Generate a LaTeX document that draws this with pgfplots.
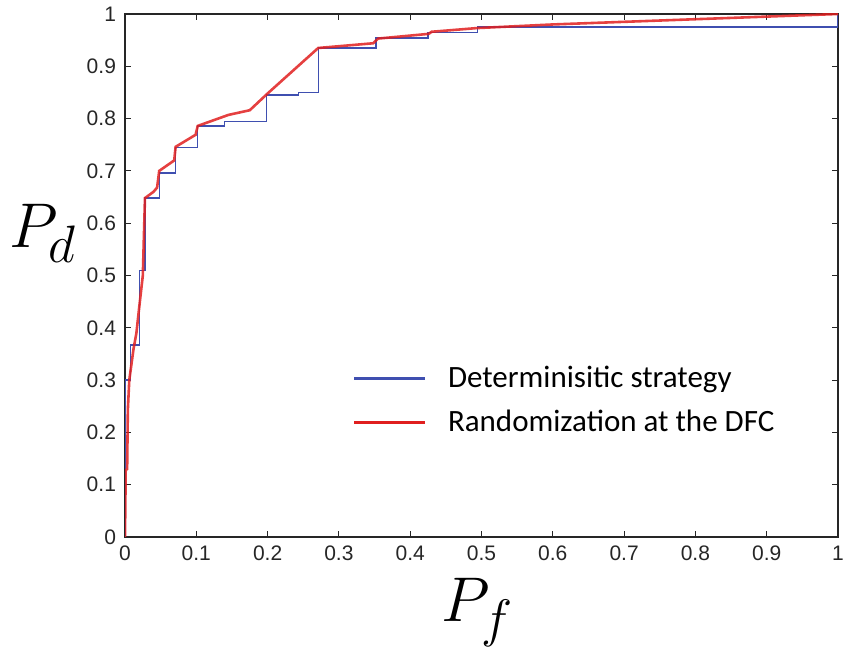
\documentclass[border=0pt]{standalone}
\usepackage{fontspec}
\setmainfont{Liberation Sans}
\newfontfamily\carlito{Carlito}
\usepackage{pgfplots}
\pgfplotsset{compat=1.18}
\definecolor{detblue}{HTML}{3F4FB0}
\definecolor{randred}{HTML}{E01F1F}
\definecolor{axgray}{HTML}{262626}
\begin{document}
\begin{tikzpicture}
\begin{axis}[
  scale only axis,
  width=356.5pt, height=261.5pt,
  xmin=0, xmax=1, ymin=0, ymax=1,
  xtick={0,0.1,...,1}, ytick={0,0.1,...,1},
  axis line style={axgray, line width=0.6pt},
  tick style={axgray, line width=0.5pt},
  tick align=inside,
  major tick length=3pt,
  tick label style={font=\fontsize{10.5}{12}\selectfont, text=axgray},
  /pgf/number format/assume math mode=true,
  xticklabel style={yshift=-1pt},
  yticklabel style={xshift=-1pt},
  xlabel={$P_f$},
  ylabel={$P_d$},
  xlabel style={font=\fontsize{24.88}{30}\selectfont, scale=1.27, inner sep=0pt, at={(axis description cs:0.495,-0.145)}, anchor=center},
  ylabel style={font=\fontsize{24.88}{30}\selectfont, scale=1.27, inner sep=0pt, at={(axis description cs:-0.115,0.581)}, anchor=center, rotate=-90},
  legend style={draw=none, fill=none, at={(axis description cs:0.31,0.343)}, anchor=north west,
    font=\carlito\fontsize{15.5}{18}\selectfont, row sep=6pt, text=black},
  legend cell align=left,
  legend image code/.code={\draw[#1, line width=1.6pt, opacity=1] (0pt,0pt) -- (35.5pt,0pt);
    \path[draw=none] (35.5pt,0pt) -- (45pt,0pt);},
]
\addplot[detblue, line width=0.6pt] coordinates {
(0,0) (0,0.30) (0.008,0.30) (0.008,0.367) (0.020,0.367) (0.020,0.51) (0.028,0.51)
(0.028,0.648) (0.048,0.648) (0.048,0.696) (0.071,0.696) (0.071,0.744) (0.102,0.744)
(0.102,0.786) (0.139,0.786) (0.139,0.794) (0.198,0.794) (0.198,0.845) (0.243,0.845)
(0.243,0.850) (0.271,0.850) (0.271,0.935) (0.352,0.935) (0.352,0.954) (0.425,0.954)
(0.425,0.965) (0.494,0.965) (0.494,0.975) (1,0.975) (1,1)
};
\addlegendentry{Determinisitic strategy}
\addplot[randred, line width=1.3pt, opacity=0.85] coordinates {
(0,0) (0.001,0.128) (0.003,0.13) (0.004,0.243) (0.006,0.30) (0.012,0.36) (0.016,0.39)
(0.020,0.44) (0.025,0.50) (0.028,0.648) (0.040,0.660) (0.045,0.668) (0.048,0.700)
(0.069,0.720) (0.071,0.746) (0.099,0.769) (0.102,0.786) (0.145,0.807) (0.175,0.816)
(0.200,0.848) (0.271,0.935) (0.348,0.944) (0.355,0.953) (0.426,0.962) (0.430,0.966)
(0.493,0.973) (0.600,0.980) (0.700,0.985) (0.800,0.990) (0.900,0.995) (1,1)
};
\addlegendentry{Randomization at the DFC}
\end{axis}
\pgfresetboundingbox
\path[use as bounding box] ([shift={(-62.5pt,-57pt)}]current axis.south west) rectangle ([shift={(2.5pt,7pt)}]current axis.north east);
\end{tikzpicture}
\end{document}
